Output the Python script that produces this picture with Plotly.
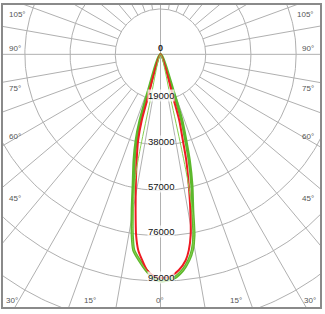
import numpy as np
import plotly.graph_objects as go

# ---- data (angle in degrees from nadir, intensity in cd) ----
green_angles = [-18.8, -18.3, -17.8, -17.2, -15.8, -14.0, -11.8, -10.3, -8.9, -7.8, -5.9, -3.8, -1.66, 0.4,
                3.44, 5.93, 7.86, 9.25, 10.5, 11.7, 13.5, 15.2, 16.4, 17.9, 18.6, 19.1, 19.6]
green_values = [0, 16000, 22000, 29100, 37540, 45820, 56090, 66430, 76720, 82820, 86700, 90600, 93790, 95000,
                93920, 90900, 87060, 83140, 77080, 66740, 56460, 46090, 37660, 29190, 22000, 16000, 0]

red_angles = [-16.8, -16.2, -15.9, -14.6, -12.7, -10.7, -9.1, -7.7, -6.5, -5.1, -3.6, -1.7, 0.4,
              2.7, 4.9, 7.0, 8.25, 9.5, 10.85, 12.2, 13.7, 14.6, 15.9, 16.2, 16.8]
red_values = [0, 20200, 28900, 37300, 45600, 55900, 66200, 76500, 82600, 86600, 90600, 92950, 93750,
              93000, 90700, 86900, 82900, 76800, 66550, 56200, 45800, 37300, 28900, 20200, 0]

thin_angles = [-12.8, -12.5, -12.2, -11.8, -10.8, -9.5, -8.9, -7.8, -5.9, -3.8, -1.66, 0.4,
               3.44, 5.93, 7.86, 9.25, 10.5, 11.3, 12.2, 12.6, 12.9, 13.2]
thin_values = [0, 20000, 39100, 50000, 60000, 70000, 76720, 82820, 86700, 90600, 93790, 95000,
               93920, 90900, 87060, 83140, 77080, 70000, 55000, 39200, 20000, 0]

ring_values = [19000, 38000, 57000, 76000, 95000]
ring_labels = ["19000", "38000", "57000", "76000", "95000"]

side_labels = ["105°", "90°", "75°", "60°", "45°"]
bottom_labels = ["30°", "15°", "0°", "15°", "30°"]

# ---- layout geometry ----
W, H = 325, 314
ml, mr, mt, mb = 3, 3, 4, 7
cx_px, cy_px = 161.5, 53.5          # centre of diagram in page px
u = 95000 / 227.5                   # cd per px
x_range = [-(cx_px - ml) * u, (W - mr - cx_px) * u]
y_range = [-(H - mb - cy_px) * u, (cy_px - mt) * u]

def to_xy(angles, values):
    a = np.radians(np.asarray(angles, dtype=float))
    v = np.asarray(values, dtype=float)
    return v * np.sin(a), -v * np.cos(a)

fig = go.Figure()
grid_col = "#b0b0b0"

# rings
t = np.linspace(0, 2 * np.pi, 361)
step = ring_values[0]
for k in range(1, 8):
    r = step * k
    fig.add_trace(go.Scatter(x=r * np.cos(t), y=r * np.sin(t), mode="lines",
                             line=dict(color=grid_col, width=1), hoverinfo="skip", showlegend=False))
# spokes every 10 degrees, starting at first ring
for deg in range(0, 360, 10):
    a = np.radians(deg)
    r0 = 0 if deg % 90 == 0 else step
    r1 = 200000
    fig.add_trace(go.Scatter(x=[r0 * np.sin(a), r1 * np.sin(a)], y=[-r0 * np.cos(a), -r1 * np.cos(a)],
                             mode="lines", line=dict(color=grid_col, width=1),
                             hoverinfo="skip", showlegend=False))

# curves
gx, gy = to_xy(green_angles, green_values)
fig.add_trace(go.Scatter(x=gx, y=gy, mode="lines",
                         line=dict(color="#5cb82c", width=3.2, shape="spline", smoothing=0.6),
                         showlegend=False))
rx, ry = to_xy(red_angles, red_values)
fig.add_trace(go.Scatter(x=rx, y=ry, mode="lines",
                         line=dict(color="#ee1a22", width=2, shape="spline", smoothing=0.6),
                         showlegend=False))
tx, ty = to_xy(thin_angles, thin_values)
fig.add_trace(go.Scatter(x=tx, y=ty, mode="lines",
                         line=dict(color="#86cf4e", width=1, shape="spline", smoothing=0.6),
                         showlegend=False))

ann = []
ann.append(dict(x=0, y=0, xref="x", yref="y", text="<b>0</b>", showarrow=False, yshift=6,
                font=dict(size=9, color="#222", family="Liberation Sans")))
for v, lab in zip(ring_values, ring_labels):
    ann.append(dict(x=0, y=-v, xref="x", yref="y", text=lab, showarrow=False, yshift=4,
                    bgcolor="rgba(255,255,255,0.75)", borderpad=0,
                    font=dict(size=9.5, color="#111", family="Liberation Sans")))

side_y = [14, 48, 88, 136, 198]
for lab, py in zip(side_labels, side_y):
    yy = 1 - (py - mt) / (H - mt - mb)
    ann.append(dict(x=0.012, y=yy, xref="paper", yref="paper", text=lab, showarrow=False,
                    xanchor="left", yanchor="middle", font=dict(size=8, color="#555", family="Liberation Sans")))
    ann.append(dict(x=0.988, y=yy, xref="paper", yref="paper", text=lab, showarrow=False,
                    xanchor="right", yanchor="middle", font=dict(size=8, color="#555", family="Liberation Sans")))
bottom_x = [12, 91, 161, 237, 312]
for lab, px in zip(bottom_labels, bottom_x):
    xx = (px - ml) / (W - ml - mr)
    yy = 1 - (300 - mt) / (H - mt - mb)
    ann.append(dict(x=xx, y=yy, xref="paper", yref="paper", text=lab, showarrow=False,
                    xanchor="center", yanchor="middle", font=dict(size=8, color="#555", family="Liberation Sans")))

fig.update_layout(
    width=W, height=H, margin=dict(l=ml, r=mr, t=mt, b=mb),
    paper_bgcolor="white", plot_bgcolor="white",
    xaxis=dict(range=x_range, visible=True, showgrid=False, zeroline=False, showticklabels=False,
               ticks="", showline=True, mirror=True, linecolor="#8a8a8a", linewidth=2, fixedrange=True),
    yaxis=dict(range=y_range, visible=True, showgrid=False, zeroline=False, showticklabels=False,
               ticks="", showline=True, mirror=True, linecolor="#8a8a8a", linewidth=2, fixedrange=True),
    annotations=ann,
)
fig.write_html("out.html")
